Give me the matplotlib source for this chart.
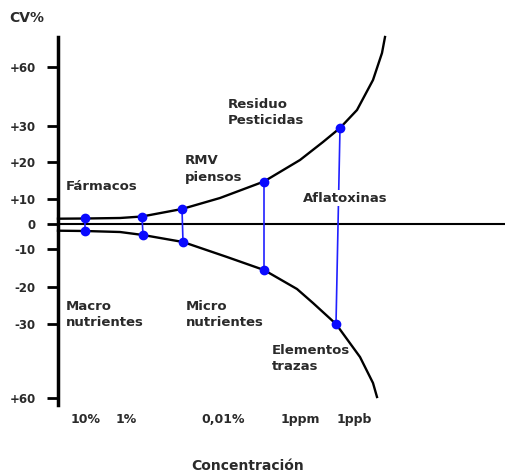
import matplotlib
matplotlib.use("Agg")
import matplotlib.pyplot as plt

# schematic trumpet curve (x = position along concentration axis, y = schematic CV units)
upper_x = [58, 85, 120, 142, 182, 220, 264, 300, 323, 340, 357, 373, 382, 385]
upper_y = [5.3, 5.5, 6, 7.5, 15, 26, 42.5, 64, 82, 96, 114, 144, 171, 187]
lower_x = [58, 85, 120, 143, 183, 227, 264, 297, 313, 336, 360, 373, 377]
lower_y = [-6.7, -7, -8, -11, -18, -33, -46, -65, -79, -100, -133, -159, -173]

dot_up_x = [85, 142, 182, 264, 340]
dot_up_y = [6, 7.5, 15, 42.5, 96]
dot_lo_x = [85, 143, 183, 264, 336]
dot_lo_y = [-7, -11, -18, -46, -100]

ytick_pos = [157, 98, 62, 25, 0, -25, -63, -100, -174]
ytick_lab = ['+60', '+30', '+20', '+10', '0', '-10', '-20', '-30', '+60']
xtick_pos = [86, 126, 223, 300, 354]
xtick_lab = ['10%', '1%', '0,01%', '1ppm', '1ppb']

labels = [
    ('Fármacos', 66, 38),
    ('RMV\npiensos', 185, 55),
    ('Residuo\nPesticidas', 228, 111),
    ('Macro\nnutrientes', 66, -91),
    ('Micro\nnutrientes', 186, -91),
    ('Elementos\ntrazas', 272, -134),
]

txt = '#2a2a2a'
W, H = 505, 475
fig = plt.figure(figsize=(W / 100, H / 100), dpi=100)
ax = fig.add_axes([58 / W, 1 - 405 / H, 1 - 58 / W, (405 - 37) / H])
ax.set_xlim(58, 505)
ax.set_ylim(-181, 187)

for s in ['top', 'right', 'bottom']:
    ax.spines[s].set_visible(False)
ax.spines['left'].set_linewidth(2.5)

ax.set_yticks(ytick_pos)
ax.set_yticklabels(ytick_lab, fontsize=8.5, fontweight='bold', color=txt)
ax.tick_params(axis='y', length=8, width=2, pad=8)
ax.set_xticks(xtick_pos)
ax.set_xticklabels(xtick_lab, fontsize=9, fontweight='bold', color=txt)
ax.tick_params(axis='x', length=0, pad=6)

ax.axhline(0, color='black', lw=1.5)

# vertical connectors
for xu, yu, xl, yl in zip(dot_up_x, dot_up_y, dot_lo_x, dot_lo_y):
    ax.plot([xu, xl], [yu, yl], color='#2020ff', lw=1.2, zorder=2)

ax.plot(upper_x, upper_y, color='black', lw=1.7, clip_on=False, zorder=3)
ax.plot(lower_x, lower_y, color='black', lw=1.7, clip_on=False, zorder=3)
ax.plot(dot_up_x, dot_up_y, 'o', color='#0a0aff', ms=6, zorder=4)
ax.plot(dot_lo_x, dot_lo_y, 'o', color='#0a0aff', ms=6, zorder=4)

for s, x, y in labels:
    ax.text(x, y, s, fontsize=9.5, fontweight='bold', color=txt,
            ha='left', va='center', linespacing=1.3)
ax.text(303, 26, 'Aflatoxinas', fontsize=9.5, fontweight='bold', color=txt,
        ha='left', va='center', zorder=5,
        bbox=dict(facecolor='white', edgecolor='none', pad=1))

ax.text((248 - 58) / 447, (405 - 466) / 368, 'Concentración', transform=ax.transAxes,
        fontsize=10, fontweight='bold', color=txt, ha='center', va='center')
ax.text((27 - 58) / 447, (405 - 18) / 368, 'CV%', transform=ax.transAxes,
        fontsize=10, fontweight='bold', color=txt, ha='center', va='center')

fig.savefig('out.png', dpi=100)
